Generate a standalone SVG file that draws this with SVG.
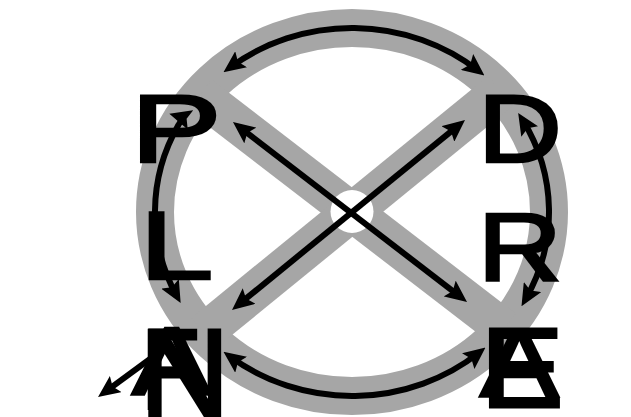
<svg xmlns="http://www.w3.org/2000/svg" width="631" height="417" viewBox="0 0 631 417">
<defs>
<style>
.ring{fill:none;stroke:#a6a6a6;stroke-width:38}
.band{stroke:#a6a6a6;stroke-width:39;stroke-linecap:butt}
.arr{fill:none;stroke:#000;stroke-width:6;marker-start:url(#ah);marker-end:url(#ah)}
.arr1{fill:none;stroke:#000;stroke-width:6;marker-end:url(#ah)}
.lt{font-family:"Liberation Sans",Arial,sans-serif;font-weight:normal;font-size:97px;fill:#000;stroke:#000;stroke-width:3;stroke-linejoin:miter;vector-effect:non-scaling-stroke}
</style>
<marker id="ah" viewBox="0 0 22 20" refX="14" refY="10" markerWidth="22" markerHeight="20" markerUnits="userSpaceOnUse" orient="auto-start-reverse">
<path d="M0,0 L22,10 L0,20 L4,10 z" fill="#000"/>
</marker>
</defs>
<rect width="631" height="417" fill="#fff"/>
<g id="wheel">
<ellipse class="ring" cx="352" cy="212" rx="197" ry="184"/>
<line class="band" x1="199.9" y1="95" x2="504.1" y2="329"/>
<line class="band" x1="500.4" y1="91" x2="203.6" y2="333"/>
<circle cx="352" cy="211.5" r="21.5" fill="#fff"/>
</g>
<g id="connectors">
<path class="arr" d="M229.9,67.6 A197,184 0 0,1 478.1,70.6"/>
<path class="arr" d="M229.9,356.4 A197,184 0 0,0 479.2,352.5"/>
<path class="arr" d="M176.8,296.1 A197,184 0 0,1 178.4,125 Q184,118 177,116"/>
<path class="arr" d="M522.4,119.7 A197,184 0 0,1 525.5,299.2"/>
<path class="arr" d="M239.3,126.9 L460.7,297.1"/>
<path class="arr" d="M458.8,125.1 L238.2,304.9"/>
<path class="arr1" d="M165,348 L104.5,392.3"/>
</g>
<g id="node-P"><text class="lt" transform="translate(130.5,161.5) scale(1.41,1)">P</text></g>
<g id="node-D"><text class="lt" transform="translate(477.9,161.5) scale(1.195,1)">D</text></g>
<g id="node-L"><text class="lt" transform="translate(139.4,278.5) scale(1.37,1)">L</text></g>
<g id="node-R"><text class="lt" transform="translate(477.8,280.5) scale(1.2,1)">R</text></g>
<g id="node-bottom-left">
<text class="lt" transform="translate(141.2,408.5) scale(0.985,1.17)">F</text>
<text class="lt" transform="translate(132,393.5) scale(1.22,1)">A</text>
<text class="lt" transform="translate(139.5,417) scale(1.29,1.3)">N</text>
</g>
<g id="node-bottom-right">
<text class="lt" transform="translate(480.2,406.5) scale(1.29,1.17)">E</text>
<text class="lt" transform="translate(480,395.5) scale(1.21,1)">A</text>
</g>
</svg>
